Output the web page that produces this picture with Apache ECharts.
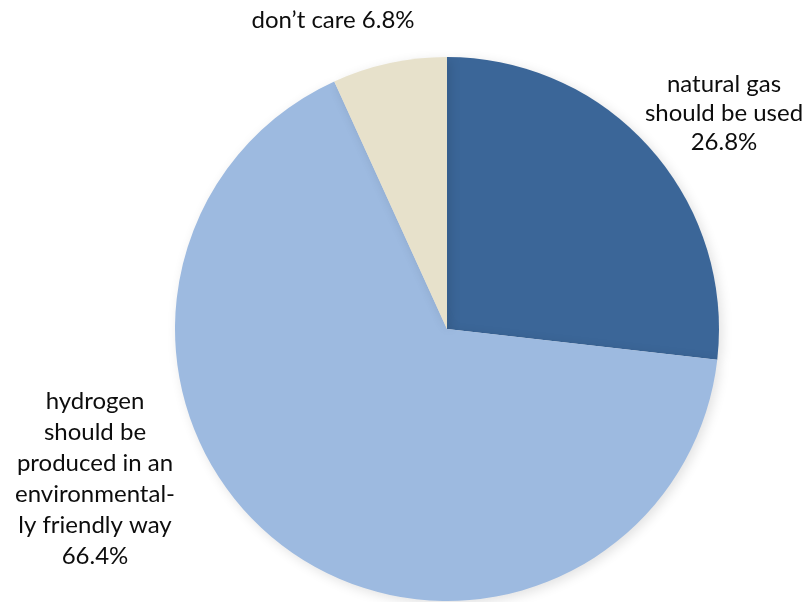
<!DOCTYPE html>
<html>
<head>
<meta charset="utf-8">
<script src="https://cdn.jsdelivr.net/npm/echarts@6/dist/echarts.min.js"></script>
<style>
  html, body { margin: 0; padding: 0; background: #ffffff; }
  #chart { width: 809px; height: 602px; }
</style>
</head>
<body>
<div id="chart"></div>
<script>
// Survey answers and their shares (%)
const categories = [
  'natural gas\nshould be used',
  'hydrogen\nshould be\nproduced in an\nenvironmental-\nly friendly way',
  'don\u2019t care'
];
const shares = [26.8, 66.4, 6.8];
const colors = ['#3B6698', '#9DBAE0', '#E7E1CB'];

// Where each label block sits (x, y) and its line spacing
const labelSpots = [
  { x: 724, y: 70, lineHeight: 29 },
  { x: 95, y: 386, lineHeight: 31 },
  { x: 333, y: 5, lineHeight: 30 }
];

const chart = echarts.init(document.getElementById('chart'));
chart.setOption({
  animation: false,
  color: colors,
  series: [{
    type: 'pie',
    center: [447, 329],
    radius: [0, 272],
    startAngle: 90,
    clockwise: true,
    data: categories.map((name, i) => ({
      name: name,
      value: shares[i],
      label: {
        formatter: i === 2 ? '{b} {c}%' : '{b}\n{c}%',
        lineHeight: labelSpots[i].lineHeight
      }
    })),
    itemStyle: {
      shadowBlur: 12,
      shadowColor: 'rgba(0,0,0,0.12)',
      shadowOffsetX: 3,
      shadowOffsetY: 3
    },
    label: {
      show: true,
      position: 'outside',
      color: '#0d0d0d',
      fontFamily: 'Lato',
      fontSize: 24,
      align: 'center',
      overflow: 'none'
    },
    labelLine: { show: false },
    labelLayout: function (params) {
      const s = labelSpots[params.dataIndex];
      return { x: s.x, y: s.y, align: 'center', verticalAlign: 'top' };
    },
    emphasis: { disabled: true }
  }]
});
</script>
</body>
</html>
